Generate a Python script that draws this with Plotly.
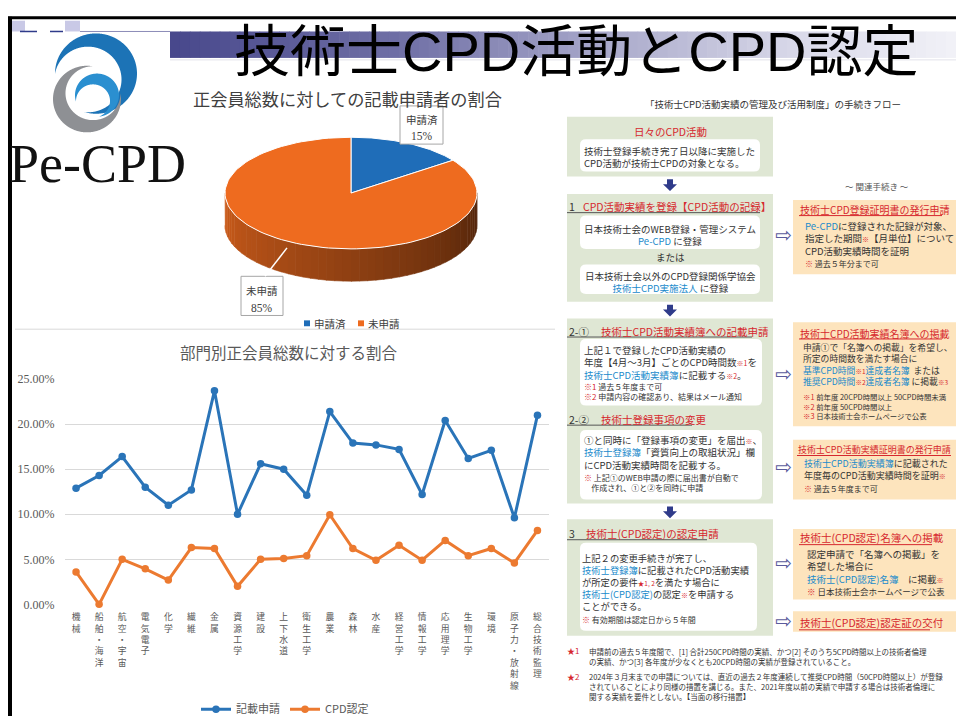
import numpy as np
import plotly.graph_objects as go

W, H = 956, 724

# ---------------- data ----------------
pie_labels = ["申請済", "未申請"]
pie_values = [15, 85]
pie_colors = ["#1F6DB8", "#EE6B1F"]

categories = ["機械", "船舶・海洋", "航空・宇宙", "電気電子", "化学", "繊維", "金属",
              "資源工学", "建設", "上下水道", "衛生工学", "農業", "森林", "水産",
              "経営工学", "情報工学", "応用理学", "生物工学", "環境",
              "原子力・放射線", "総合技術監理"]
kisai_shinsei = [12.9, 14.3, 16.4, 13.0, 11.0, 12.7, 23.7, 10.0, 15.6, 15.0, 12.1,
                 21.4, 17.9, 17.7, 17.2, 12.2, 20.4, 16.2, 17.1, 9.6, 21.0]
cpd_nintei = [3.6, 0.0, 5.0, 3.95, 2.7, 6.3, 6.2, 2.0, 5.0, 5.1, 5.4,
              9.95, 6.2, 4.9, 6.55, 4.9, 7.1, 5.4, 6.2, 4.6, 8.2]
series_names = ["記載申請", "CPD認定"]
series_colors = ["#2A74B8", "#EC7A30"]
y_ticks = [0, 5, 10, 15, 20, 25]

# ---------------- helpers ----------------
JP = "Noto Sans CJK JP"
RED = "#d6282e"
BLUE = "#1a8acb"
TXT = "#333333"
shapes, annotations = [], []


def X(px):
    return px / W


def Y(py):
    return 1 - py / H


def rect(x0, y0, x1, y1, fill, line=None, lw=0, layer="below"):
    shapes.append(dict(type="rect", xref="paper", yref="paper", x0=X(x0), x1=X(x1),
                       y0=Y(y1), y1=Y(y0), fillcolor=fill, layer=layer,
                       line=dict(color=line or "rgba(0,0,0,0)", width=lw)))


def seg(x0, y0, x1, y1, color, w=1, layer="below"):
    shapes.append(dict(type="line", xref="paper", yref="paper", x0=X(x0), x1=X(x1),
                       y0=Y(y0), y1=Y(y1), layer=layer, line=dict(color=color, width=w)))


def path(pts, fill, layer="below"):
    p = "M " + " L ".join(f"{X(x):.5f},{Y(y):.5f}" for x, y in pts) + " Z"
    shapes.append(dict(type="path", xref="paper", yref="paper", path=p, fillcolor=fill,
                       layer=layer, line=dict(width=0, color="rgba(0,0,0,0)")))


def rrect(x0, y0, x1, y1, r, fill):
    p = (f"M {X(x0+r)},{Y(y0)} L {X(x1-r)},{Y(y0)} Q {X(x1)},{Y(y0)} {X(x1)},{Y(y0+r)} "
         f"L {X(x1)},{Y(y1-r)} Q {X(x1)},{Y(y1)} {X(x1-r)},{Y(y1)} "
         f"L {X(x0+r)},{Y(y1)} Q {X(x0)},{Y(y1)} {X(x0)},{Y(y1-r)} "
         f"L {X(x0)},{Y(y0+r)} Q {X(x0)},{Y(y0)} {X(x0+r)},{Y(y0)} Z")
    shapes.append(dict(type="path", xref="paper", yref="paper", path=p, fillcolor=fill,
                       layer="below", line=dict(width=0, color="rgba(0,0,0,0)")))


def T(x, y, s, size=9.5, color=TXT, anchor="left", family=JP):
    annotations.append(dict(x=X(x), y=Y(y), xref="paper", yref="paper", text=s,
                            showarrow=False, xanchor=anchor, yanchor="middle",
                            align=anchor if anchor != "center" else "center",
                            borderpad=0, font=dict(size=size, color=color, family=family)))


def TB(x, y_first, lines, size=9.5, color=TXT, anchor="left", family=JP):
    """multi-line block; y_first = centre of first line"""
    lh = 1.3 * size
    yc = y_first + (len(lines) - 1) * lh / 2
    T(x, yc, "<br>".join(lines), size=size, color=color, anchor=anchor, family=family)


def b(s):
    return f'<span style="color:{BLUE}">{s}</span>'


def r(s, fs=None):
    if fs:
        return f'<span style="color:{RED};font-size:{fs}px">{s}</span>'
    return f'<span style="color:{RED}">{s}</span>'


def hexrgb(h):
    h = h.lstrip("#")
    return [int(h[i:i + 2], 16) for i in (0, 2, 4)]


def shade(h, k):
    c = hexrgb(h)
    return "rgb({},{},{})".format(*[int(v * k) for v in c])


def crescent(c1, r1, c2, r2, color):
    c1 = np.array(c1, float)
    c2 = np.array(c2, float)
    phi0 = np.arctan2(c1[1] - c2[1], c1[0] - c2[0])
    t = np.linspace(-np.pi, np.pi, 721)
    a = phi0 + t
    p1 = c1[:, None] + r1 * np.vstack([np.cos(a), np.sin(a)])
    p1 = p1[:, np.hypot(p1[0] - c2[0], p1[1] - c2[1]) >= r2]
    a2 = a[::-1]
    p2 = c2[:, None] + r2 * np.vstack([np.cos(a2), np.sin(a2)])
    p2 = p2[:, np.hypot(p2[0] - c1[0], p2[1] - c1[1]) <= r1]
    pts = np.hstack([p1, p2]).T
    path(pts, color)


# ---------------- slide decoration ----------------
stops = [(170, (72, 72, 140)), (400, (112, 112, 166)), (600, (168, 168, 202)),
         (800, (218, 218, 234)), (956, (242, 242, 248))]
xs_bar = np.linspace(170, 956, 80)
for i in range(len(xs_bar) - 1):
    xm = (xs_bar[i] + xs_bar[i + 1]) / 2
    for (xa, ca), (xb, cb) in zip(stops[:-1], stops[1:]):
        if xa <= xm <= xb:
            f = (xm - xa) / (xb - xa)
            c = [int(ca[j] + f * (cb[j] - ca[j])) for j in range(3)]
            break
    rect(xs_bar[i], 25, xs_bar[i + 1] + 0.6, 52, "rgb({},{},{})".format(*c))
seg(170, 54, 956, 54, "#e2e2ea", 1)

rect(12, 14, 25, 25, "#c9c9e6")
rect(65, 14, 80, 25, "#c9c9e6")
seg(20, 25, 37, 25, "#2f3b8a", 1.5)
seg(50, 25, 63, 25, "#2f3b8a", 1.5)
seg(80, 25, 170, 25, "#8b8bb8", 1)

seg(8, 11, 956, 11, "#000000", 3, layer="above")
seg(10, 10, 10, 724, "#000000", 4, layer="above")

# logo
crescent((96, 68), 41, (88, 74), 33.5, "#1c73b6")
crescent((87, 94), 34, (93, 88), 27.5, "#8e9094")
crescent((97, 90), 22, (93, 96), 17, "#2a8fd0")

T(97, 160, "Pe-CPD", size=54, color="#111111", anchor="center", family="Liberation Serif")
T(576, 45, "技術士CPD活動とCPD認定", size=56, color="#000000", anchor="center",
  family="Liberation Sans, Noto Sans CJK JP, sans-serif")

# ---------------- pie area ----------------
T(192, 93, "正会員総数に対しての記載申請者の割合", size=17.2, color="#404040")
seg(15, 329, 555, 329, "#d9d9d9", 1)

fig = go.Figure()

cx, cy, ea, eb, depth = 351, 190, 126, 57, 33
cum = np.cumsum([0] + pie_values) / sum(pie_values)

ts = np.linspace(np.pi, 2 * np.pi, 49)
nstrip = len(ts) - 1
for i in range(nstrip):
    tt = np.linspace(ts[i], ts[i + 1] + 0.004, 4)
    xt = cx + ea * np.cos(tt)
    yt = cy - eb * np.sin(tt)
    xs = np.concatenate([xt, xt[::-1]])
    ys = np.concatenate([yt, yt[::-1] + depth])
    tm = (ts[i] + ts[i + 1]) / 2
    f = ((np.pi / 2 - tm) / (2 * np.pi)) % 1
    k = int(np.searchsorted(cum, f, side="right") - 1)
    col = shade(pie_colors[k], 0.86 - 0.52 * i / (nstrip - 1))
    fig.add_trace(go.Scatter(x=xs, y=ys, mode="lines", fill="toself", fillcolor=col,
                             line=dict(width=0.6, color=col), xaxis="x2", yaxis="y2",
                             hoverinfo="skip", showlegend=False))

for k in range(len(pie_values)):
    ff = np.linspace(cum[k], cum[k + 1], 120)
    th = np.pi / 2 - 2 * np.pi * ff
    xs = np.concatenate([[cx], cx + ea * np.cos(th), [cx]])
    ys = np.concatenate([[cy], cy - eb * np.sin(th), [cy]])
    fig.add_trace(go.Scatter(x=xs, y=ys, mode="lines", fill="toself",
                             fillcolor=pie_colors[k], line=dict(width=1, color="white"),
                             xaxis="x2", yaxis="y2", hoverinfo="skip", showlegend=False))

rect(400, 101, 443, 140, "white", "#a6a6a6", 1, layer="above")
T(421.5, 115, pie_labels[0], size=10.5, color="#404040", anchor="center")
T(421.5, 132, f"{pie_values[0]}%", size=11.5, color="#404040", anchor="center",
  family="Liberation Serif")
rect(241, 275, 283, 315, "white", "#a6a6a6", 1, layer="above")
seg(265, 275, 287, 246, "#ffffff", 1.5, layer="above")
T(262, 289, pie_labels[1], size=10.5, color="#404040", anchor="center")
T(262, 307, f"{pie_values[1]}%", size=11.5, color="#404040", anchor="center",
  family="Liberation Serif")

rect(304, 320, 310, 326, pie_colors[0])
T(313, 323, pie_labels[0], size=10.5, color="#404040")
rect(358, 320, 364, 326, pie_colors[1])
T(367, 323, pie_labels[1], size=10.5, color="#404040")

# ---------------- line chart ----------------
T(289, 352, "部門別正会員総数に対する割合", size=15.5, color="#595959", anchor="center")

for name, vals, col in zip(series_names, [kisai_shinsei, cpd_nintei], series_colors):
    fig.add_trace(go.Scatter(x=categories, y=vals, name=name, mode="lines+markers",
                             line=dict(color=col, width=3), marker=dict(size=7.5, color=col),
                             cliponaxis=False, xaxis="x", yaxis="y"))

# ---------------- flow chart ----------------
GREEN = "#dfe7d4"
PEACH = "#fde4bd"
NAVY = "#2f3b8a"

T(773, 99, "「技術士CPD活動実績の管理及び活用制度」の手続きフロー", size=9.5, anchor="center")

for (x0, y0, x1, y1) in [(567, 112, 773, 173), (567, 191, 773, 301),
                         (567, 318, 773, 507), (567, 523, 773, 642)]:
    rect(x0, y0, x1, y1, GREEN)
for (x0, y0, x1, y1) in [(580, 135, 760, 168), (580, 213, 760, 247), (580, 263, 760, 293),
                         (580, 339, 762, 407), (580, 432, 762, 503), (580, 547, 757, 637)]:
    rrect(x0, y0, x1, y1, 6, "#ffffff")
for (x0, y0, x1, y1) in [(793, 197, 956, 273), (793, 322, 956, 428), (793, 442, 956, 503),
                         (793, 533, 956, 605), (793, 617, 956, 638)]:
    rect(x0, y0, x1, y1, PEACH)

for y0 in [176, 304, 510]:
    path([(667, y0), (673, y0), (673, y0 + 5), (677, y0 + 5), (670, y0 + 12),
          (663, y0 + 5), (667, y0 + 5)], NAVY)
for yy in [233, 375, 470, 568, 627]:
    T(783, yy, "⇨", size=20, color="#5a5a9c", anchor="center", family="DejaVu Sans")

# box 0
T(670, 127, "日々のCPD活動", size=10.5, color=RED, anchor="center")
TB(583, 147, ["技術士登録手続き完了日以降に実施した",
              "CPD活動が技術士CPDの対象となる。"])
T(877, 183, "～ 関連手続き ～", size=8.5, color="#555555", anchor="center")

# box 1
T(568, 204, "1", size=10.5)
T(582, 204, "CPD活動実績を登録【CPD活動の記録】", size=10.5, color=RED)
seg(567, 210, 760, 210, "#555555", 1)
TB(670, 227, ["日本技術士会のWEB登録・管理システム", b("Pe-CPD") + " に登録"], anchor="center")
T(670, 255, "または", anchor="center")
TB(670, 275, ["日本技術士会以外のCPD登録関係学協会", b("技術士CPD実施法人") + " に登録"],
   anchor="center")

T(799, 207, "技術士CPD登録証明書の発行申請", size=10, color=RED)
seg(799, 213, 942, 213, RED, 1)
TB(804, 224, [b("Pe-CPD") + "に登録された記録が対象、",
              "指定した期間" + r("※", 7) + "【月単位】について",
              "CPD活動実績時間を証明"])
T(804, 262, r("※") + " 過去５年分まで可", size=8)

# box 2
T(568, 331, "2-①", size=10.5)
T(600, 331, "技術士CPD活動実績簿への記載申請", size=10.5, color=RED)
seg(567, 337, 752, 337, "#555555", 1)
TB(583, 351, ["上記１で登録したCPD活動実績の",
              "年度【4月～3月】ごとのCPD時間数" + r("※1", 7) + "を",
              b("技術士CPD活動実績簿") + "に記載する" + r("※2", 7) + "。"])
TB(583, 387, [r("※1") + " 過去５年度まで可",
              r("※2") + " 申請内容の確認あり、結果はメール通知"], size=8)
T(568, 421, "2-②", size=10.5)
T(600, 421, "技術士登録事項の変更", size=10.5, color=RED)
seg(567, 427, 692, 427, "#555555", 1)
TB(583, 443, ["①と同時に「登録事項の変更」を届出" + r("※", 7) + "、",
              b("技術士登録簿") + "「資質向上の取組状況」欄",
              "にCPD活動実績時間を記載する。"])
TB(583, 480, [r("※") + " 上記①のWEB申請の際に届出書が自動で",
              "&nbsp;&nbsp;&nbsp;&nbsp;作成され、①と②を同時に申請"], size=8)

T(799, 333, "技術士CPD活動実績名簿への掲載", size=10, color=RED)
seg(799, 339, 942, 339, RED, 1)
TB(802, 348, ["申請①で「名簿への掲載」を希望し、",
              "所定の時間数を満たす場合に",
              b("基準CPD時間") + r("※1", 6.5) + b("達成者名簿") + "  または",
              b("推奨CPD時間") + r("※2", 6.5) + b("達成者名簿") + " に掲載" + r("※3", 6.5)],
   size=8.8)
TB(802, 398, [r("※1") + " 前年度 20CPD時間以上 50CPD時間未満",
              r("※2") + " 前年度 50CPD時間以上",
              r("※3") + " 日本技術士会ホームページで公表"], size=7.4)

T(797, 452, "技術士CPD活動実績証明書の発行申請", size=9, color=RED)
seg(797, 458, 951, 458, RED, 1)
TB(803, 466, [b("技術士CPD活動実績簿") + "に記載された",
              "年度毎のCPD活動実績時間を証明" + r("※", 7)], size=9)
T(803, 492, r("※") + " 過去５年度まで可", size=8)

# box 3
T(568, 538, "3", size=10.5)
T(585, 538, "技術士(CPD認定)の認定申請", size=10.5, color=RED)
seg(567, 544, 707, 544, "#555555", 1)
TB(581, 563, ["上記２の変更手続きが完了し、",
              b("技術士登録簿") + "に記載されたCPD活動実績",
              "が所定の要件" + r("★1, 2", 6.5) + "を満たす場合に",
              b("技術士(CPD認定)") + "の認定" + r("※", 7) + "を申請する",
              "ことができる。"], size=9.3)
T(581, 625, r("※") + " 有効期間は認定日から５年間", size=8)

T(799, 542, "技術士(CPD認定)名簿への掲載", size=10.5, color=RED)
seg(799, 549, 932, 549, RED, 1)
TB(806, 559, ["認定申請で「名簿への掲載」を",
              "希望した場合に",
              b("技術士(CPD認定)名簿") + "　に掲載" + r("※", 7)])
T(806, 596, r("※") + " 日本技術士会ホームページで公表", size=8.5)

T(799, 629, "技術士(CPD認定)認定証の交付", size=10.5, color=RED)
seg(799, 636, 930, 636, RED, 1)

# footnotes
T(566, 657, "★1", size=8, color=RED)
TB(588, 658, ["申請前の過去５年度間で、[1] 合計250CPD時間の実績、かつ[2] そのうち5CPD時間以上の技術者倫理",
              "の実績、かつ[3] 各年度が少なくとも20CPD時間の実績が登録されていること。"], size=7.5)
T(566, 684, "★2", size=8, color=RED)
TB(588, 684, ["2024年３月末までの申請については、直近の過去２年度連続して推奨CPD時間（50CPD時間以上）が登録",
              "されていることにより同様の措置を講じる。また、2021年度以前の実績で申請する場合は技術者倫理に",
              "関する実績を要件としない。【当面の移行措置】"], size=7.5)

# ---------------- layout ----------------
fig.update_layout(
    width=W, height=H, margin=dict(l=0, r=0, t=0, b=0),
    paper_bgcolor="white", plot_bgcolor="rgba(0,0,0,0)",
    font=dict(family=JP, color="#595959"),
    shapes=shapes, annotations=annotations,
    showlegend=True,
    legend=dict(orientation="h", x=X(285), y=Y(717), xanchor="center", yanchor="middle",
                font=dict(size=11, color="#595959", family=JP), bgcolor="rgba(0,0,0,0)",
                itemwidth=30),
    xaxis=dict(domain=[X(64.5), X(549)], type="category", range=[-0.5, len(categories) - 0.5],
               tickvals=categories, ticktext=["<br>".join(c) for c in categories],
               tickfont=dict(size=8.8, color="#595959", family=JP), showgrid=False,
               showline=False, zeroline=False, ticks="", ticklabelstandoff=6),
    yaxis=dict(domain=[Y(610), Y(380)], range=[0, 25], tickvals=y_ticks,
               ticktext=[f"{v:.2f}%" for v in y_ticks],
               tickfont=dict(size=12, color="#595959", family="Liberation Serif"),
               gridcolor="#d9d9d9", gridwidth=1, zeroline=False, showline=False, ticks="",
               ticklabelstandoff=9),
    xaxis2=dict(domain=[0, 1], range=[0, W], visible=False, fixedrange=True),
    yaxis2=dict(domain=[0, 1], range=[H, 0], visible=False, fixedrange=True),
)

fig.write_html("out.html", config={"displayModeBar": False},
               post_script="document.body.style.margin='0';document.body.style.overflow='hidden';")
